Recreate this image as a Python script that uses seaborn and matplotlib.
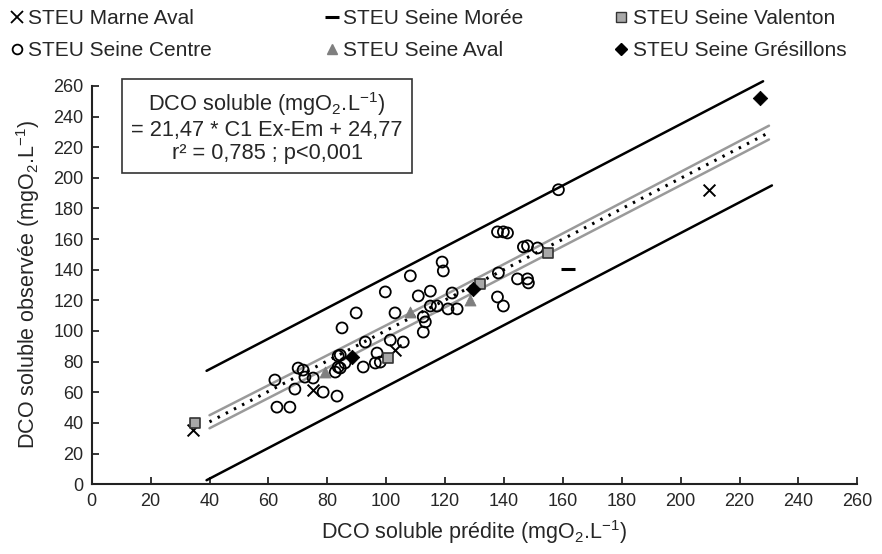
import numpy as np
import pandas as pd
import seaborn as sns
import matplotlib
matplotlib.use("Agg")
import matplotlib.pyplot as plt
from matplotlib.lines import Line2D

# --- data ------------------------------------------------------------------
# Seine Centre (open circles)
centre_x = [158.5, 137.8, 139.8, 141.2, 119.0, 119.4, 108.2, 99.7, 89.8, 110.9,
            115.0, 103.0, 115.0, 117.3, 121.0, 124.1, 122.4, 146.6, 148.0, 151.4,
            138.1, 144.6, 148.0, 148.3, 137.8, 139.8, 85.0, 112.6, 113.3, 112.6,
            101.4, 105.8, 92.9, 96.9, 98.0, 96.3, 92.2, 84.4, 82.7, 86.0,
            84.4, 83.7, 71.8, 75.2, 70.1, 72.4, 62.2, 69.0, 78.6, 83.3,
            62.9, 67.3, 83.7]
centre_y = [192.2, 164.7, 164.7, 164.0, 145.0, 139.2, 136.0, 125.5, 111.8, 122.9,
            126.0, 111.8, 116.3, 116.3, 114.4, 114.4, 124.8, 154.9, 155.6, 154.2,
            137.9, 134.0, 134.0, 131.4, 122.2, 116.3, 102.0, 109.2, 105.9, 99.3,
            94.1, 92.8, 92.8, 85.6, 79.7, 79.1, 76.5, 75.8, 73.2, 79.1,
            84.3, 76.5, 74.5, 69.3, 75.8, 69.9, 68.0, 62.1, 60.1, 57.5,
            50.3, 50.3, 83.7]

# Marne Aval (x)
marne_x = [209.5, 103.0, 75.2, 34.4]
marne_y = [192.2, 87.6, 61.4, 35.3]

# Seine Moree (dash)
moree_x = [161.6]
moree_y = [140.5]

# Seine Valenton (grey squares)
valenton_x = [35.0, 100.7, 132.0, 154.8]
valenton_y = [39.9, 82.4, 130.7, 151.0]

# Seine Aval (grey triangles)
aval_x = [108.2, 128.6, 79.3]
aval_y = [112.4, 120.3, 73.2]

# Seine Gresillons (black diamonds)
gres_x = [226.9, 129.6, 88.4]
gres_y = [252.3, 127.5, 83.0]

# regression line, confidence band and +/- bounds
fit_x = [40, 230]
fit_y = [40.7, 229.5]
band_x = [40, 110, 230]
band_hi = [45.0, 113.5, 234.0]
band_lo = [36.5, 105.5, 225.0]
upper_x = [39, 228]
upper_y = [74, 263]
lower_x = [39, 231]
lower_y = [2.6, 195]

# --------------------------------------------------------------------------
sns.set_style("white")
plt.rcParams['font.family'] = ['Liberation Sans', 'DejaVu Sans']
plt.rcParams['mathtext.fontset'] = 'custom'
plt.rcParams['mathtext.rm'] = 'Liberation Sans'

fig = plt.figure(figsize=(8.82, 5.54), dpi=100)
ax = fig.add_axes([0.104, 0.126, 0.868, 0.719])

# lines
sns.lineplot(x=upper_x, y=upper_y, ax=ax, color='black', lw=1.8, clip_on=False)
sns.lineplot(x=lower_x, y=lower_y, ax=ax, color='black', lw=1.8)
sns.lineplot(x=band_x, y=band_hi, ax=ax, color='#9a9a9a', lw=1.8)
sns.lineplot(x=band_x, y=band_lo, ax=ax, color='#9a9a9a', lw=1.8)
sns.lineplot(x=fit_x, y=fit_y, ax=ax, color='black', lw=2.2, linestyle=(0, (0.8, 2.2)))

# points
ms = 62
sns.scatterplot(x=centre_x, y=centre_y, ax=ax, marker='o', s=ms,
                facecolor='none', edgecolor='black', linewidth=1.3, zorder=3)
sns.scatterplot(x=marne_x, y=marne_y, ax=ax, marker='x', s=ms + 10,
                color='black', linewidth=1.4, zorder=3)
sns.scatterplot(x=moree_x, y=moree_y, ax=ax, marker='_', s=ms + 40,
                color='black', linewidth=2.2, zorder=3)
sns.scatterplot(x=valenton_x, y=valenton_y, ax=ax, marker='s', s=ms,
                facecolor='#a8a8a8', edgecolor='#333333', linewidth=1.2, zorder=4)
sns.scatterplot(x=aval_x, y=aval_y, ax=ax, marker='^', s=ms,
                color='#7f7f7f', edgecolor='#7f7f7f', zorder=4)
sns.scatterplot(x=gres_x, y=gres_y, ax=ax, marker='D', s=ms - 8,
                color='black', edgecolor='black', zorder=4)

ax.set_xlim(0, 260)
ax.set_ylim(0, 260)
ax.set_xticks(np.arange(0, 261, 20))
ax.set_yticks(np.arange(0, 261, 20))
for s in ['top', 'right']:
    ax.spines[s].set_visible(False)
for s in ['left', 'bottom']:
    ax.spines[s].set_linewidth(1.5)
    ax.spines[s].set_color('#222222')
ax.tick_params(direction='in', length=5, width=1.3, labelsize=13, pad=6,
               left=True, bottom=True)

ax.set_xlabel('DCO soluble prédite (mgO$\\mathregular{_2}$.L$\\mathregular{^{-1}}$)',
              fontsize=15.5, labelpad=6)
ax.set_ylabel('DCO soluble observée (mgO$\\mathregular{_2}$.L$\\mathregular{^{-1}}$)',
              fontsize=15.5, labelpad=8)

ax.text(0.229, 0.897,
        'DCO soluble (mgO$\\mathregular{_2}$.L$\\mathregular{^{-1}}$)\n'
        '= 21,47 * C1 Ex-Em + 24,77\nr² = 0,785 ; p<0,001',
        transform=ax.transAxes, ha='center', va='center', fontsize=15.7,
        linespacing=1.12,
        bbox=dict(boxstyle='square,pad=0.42', facecolor='white',
                  edgecolor='#333333', linewidth=1.2))

# legend: three columns of two entries
def h(marker, **kw):
    return Line2D([], [], linestyle='none', marker=marker, **kw)

cols = [
    ([h('x', color='black', markersize=8, markeredgewidth=1.3),
      h('o', markerfacecolor='none', markeredgecolor='black', markersize=7, markeredgewidth=1.3)],
     ['STEU Marne Aval', 'STEU Seine Centre'], 0.005),
    ([h('_', color='black', markersize=10, markeredgewidth=2.2),
      h('^', color='#7f7f7f', markersize=7)],
     ['STEU Seine Morée', 'STEU Seine Aval'], 0.362),
    ([h('s', markerfacecolor='#a8a8a8', markeredgecolor='#333333', markersize=7),
      h('D', color='black', markersize=6.5)],
     ['STEU Seine Valenton', 'STEU Seine Grésillons'], 0.69),
]
for handles, labels, xpos in cols:
    fig.legend(handles, labels, loc='upper left', bbox_to_anchor=(xpos, 0.991),
               frameon=False, fontsize=15, handlelength=0.8, handletextpad=0.15,
               labelspacing=0.64, borderaxespad=0.1, borderpad=0.1)

fig.savefig('out.png', dpi=100)
